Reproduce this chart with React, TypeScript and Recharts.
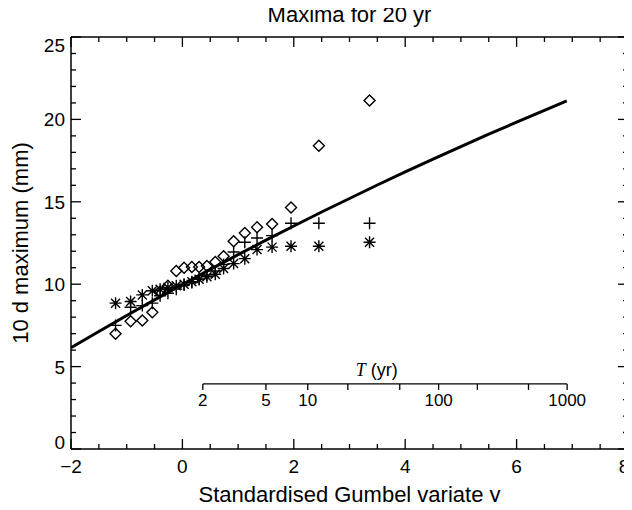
import React from "react";
import {ScatterChart, Scatter, XAxis, YAxis, ReferenceLine, ReferenceDot, Label} from "recharts";

// plotting positions (standardised Gumbel variate) shared by the three samples
const plotX = [-1.2, -0.93, -0.72, -0.54, -0.4, -0.26, -0.11, 0.03, 0.17, 0.3,
    0.44, 0.59, 0.74, 0.92, 1.12, 1.34, 1.61, 1.95, 2.45, 3.36];
const diamondY = [7.0, 7.75, 7.8, 8.3, 9.55, 9.9, 10.8, 11.0, 11.05, 11.05,
    11.1, 11.35, 11.7, 12.6, 13.1, 13.45, 13.65, 14.65, 18.4, 21.15];
const plusY = [7.5, 8.6, 8.7, 8.85, 9.3, 9.45, 9.7, 9.95, 10.1, 10.3,
    10.55, 10.8, 11.2, 11.95, 12.55, 12.8, 12.95, 13.7, 13.7, 13.7];
const starY = [8.85, 8.95, 9.35, 9.6, 9.7, 9.8, 9.9, 10.0, 10.15, 10.3,
    10.45, 10.6, 10.95, 11.25, 11.55, 12.1, 12.25, 12.3, 12.3, 12.55];

// fitted curve
const fitX = [-2, -1.5, -1, -0.5, 0, 0.5, 1, 1.5, 2, 2.5, 3, 3.5, 4, 4.5, 5, 5.5, 6, 6.5, 6.9];
const fitY = [6.14, 7.13, 8.1, 9.05, 9.98, 10.9, 11.79, 12.67, 13.53, 14.38, 15.2, 16.02,
    16.81, 17.59, 18.35, 19.1, 19.83, 20.55, 21.12];

// return period axis
const returnPeriods = [2, 5, 10, 20, 50, 100, 200, 500, 1000];
const labelledPeriods = [2, 5, 10, 100, 1000];

const xTicks = [-2, -1.5, -1, -0.5, 0, 0.5, 1, 1.5, 2, 2.5, 3, 3.5, 4, 4.5, 5, 5.5, 6, 6.5, 7, 7.5, 8];
const yTicks = [0, 1, 2, 3, 4, 5, 6, 7, 8, 9, 10, 11, 12, 13, 14, 15, 16, 17, 18, 19, 20, 21, 22, 23, 24, 25];

const X_MIN = -2, X_MAX = 8, Y_MIN = 0, Y_MAX = 25;
const T_LEVEL = 3.95;
const T_TITLE_X = 3.49;

const gumbel = (T: number) => -Math.log(-Math.log(1 - 1 / T));

const diamonds = plotX.map((x, i) => ({x, y: diamondY[i]}));
const pluses = plotX.map((x, i) => ({x, y: plusY[i]}));
const stars = plotX.map((x, i) => ({x, y: starY[i]}));
const fit = fitX.map((x, i) => ({x, y: fitY[i]}));
const tAxis = returnPeriods.map(T => ({x: gumbel(T), y: T_LEVEL, T}));

const INK = "#000";
const FONT = "'Liberation Sans', Arial, Helvetica, sans-serif";

const fmt = (v: number) => (v < 0 ? "\u2212" + Math.abs(v) : String(v));

const BottomTick = ({x, y, payload}: any) => {
    const v = payload.value;
    const major = v % 2 === 0;
    const dx = v === X_MAX ? -4 : 0;
    return (
        <g>
            <line x1={x} x2={x} y1={y} y2={y - (major ? 10 : 5)} stroke={INK} strokeWidth={1.3}/>
            {major && <text x={x + dx} y={y + 24} textAnchor="middle" fontSize={19} fill={INK}>{fmt(v)}</text>}
        </g>
    );
};

const LeftTick = ({x, y, payload}: any) => {
    const v = payload.value;
    const major = v % 5 === 0;
    const dy = v === 25 ? 8 : v === 0 ? -7 : 0;
    return (
        <g>
            <line x1={x} x2={x + (major ? 10 : 5)} y1={y} y2={y} stroke={INK} strokeWidth={1.3}/>
            {major && <text x={x - 6} y={y + dy + 7} textAnchor="end" fontSize={19} fill={INK}>{v}</text>}
        </g>
    );
};

const Diamond = ({cx, cy}: any) => (
    <path d={`M${cx},${cy - 5.5}L${cx + 5.5},${cy}L${cx},${cy + 5.5}L${cx - 5.5},${cy}Z`}
          fill="none" stroke={INK} strokeWidth={1.4}/>
);

const Plus = ({cx, cy}: any) => (
    <path d={`M${cx - 6},${cy}H${cx + 6}M${cx},${cy - 6}V${cy + 6}`} stroke={INK} strokeWidth={1.4}/>
);

const Star = ({cx, cy}: any) => (
    <path d={`M${cx - 6},${cy}H${cx + 6}M${cx},${cy - 6}V${cy + 6}M${cx - 4.5},${cy - 4.5}L${cx + 4.5},${cy + 4.5}M${cx - 4.5},${cy + 4.5}L${cx + 4.5},${cy - 4.5}`}
          stroke={INK} strokeWidth={1.4}/>
);

const TTick = ({cx, cy, payload}: any) => (
    <g>
        <line x1={cx} x2={cx} y1={cy} y2={cy + 6} stroke={INK} strokeWidth={1.3}/>
        {labelledPeriods.includes(payload.T) &&
            <text x={cx} y={cy + 22} textAnchor="middle" fontSize={17} fill={INK}>{payload.T}</text>}
    </g>
);

const TTitle = ({cx, cy}: any) => (
    <text x={cx} y={cy - 8} textAnchor="middle" fontSize={18} fill={INK}>
        <tspan fontFamily="'Liberation Serif', 'Times New Roman', serif" fontStyle="italic">T</tspan>
        <tspan> (yr)</tspan>
    </text>
);

const Title = ({cx, cy}: any) => (
    <text x={cx} y={cy - 15} textAnchor="middle" fontSize={22} fill={INK}>Maxima for 20 yr</text>
);

const none = () => <g/>;

export default function App() {
    return (
        <div style={{marginTop: -8, marginBottom: -8}}>
            <ScatterChart width={624} height={510} margin={{top: 37, right: 4, bottom: 0, left: 0}}
                          style={{fontFamily: FONT}}>
                <XAxis dataKey="x" type="number" domain={[X_MIN, X_MAX]} ticks={xTicks} interval={0}
                       height={61} tickSize={0} tickMargin={0} tick={<BottomTick/>}
                       axisLine={{stroke: INK, strokeWidth: 1.5}} allowDataOverflow>
                    <Label content={({viewBox}: any) => (
                        <text x={viewBox.x + viewBox.width / 2} y={viewBox.y + 53} textAnchor="middle"
                              fontSize={22} fill={INK}>Standardised Gumbel variate y</text>
                    )}/>
                </XAxis>
                <YAxis dataKey="y" type="number" domain={[Y_MIN, Y_MAX]} ticks={yTicks} interval={0}
                       width={63} tickSize={0} tickMargin={0} tick={<LeftTick/>}
                       axisLine={{stroke: INK, strokeWidth: 1.5}} allowDataOverflow>
                    <Label content={({viewBox}: any) => {
                        const cx = 12;
                        const cy = viewBox.y + viewBox.height / 2;
                        return (
                            <text x={cx} y={cy} transform={`rotate(-90 ${cx} ${cy})`} textAnchor="middle"
                                  dominantBaseline="central" fontSize={22} fill={INK}>10 d maximum (mm)</text>
                        );
                    }}/>
                </YAxis>

                {/* top and right frame with inward ticks */}
                <ReferenceLine y={Y_MAX} stroke={INK} strokeWidth={1.5}/>
                <ReferenceLine x={X_MAX} stroke={INK} strokeWidth={1.5}/>
                {xTicks.map(v => (
                    <ReferenceLine key={"t" + v} stroke={INK} strokeWidth={1.3}
                                   segment={[{x: v, y: Y_MAX}, {x: v, y: Y_MAX - (v % 2 === 0 ? 0.6 : 0.3)}]}/>
                ))}
                {yTicks.map(v => (
                    <ReferenceLine key={"r" + v} stroke={INK} strokeWidth={1.3}
                                   segment={[{x: X_MAX, y: v}, {x: X_MAX - (v % 5 === 0 ? 0.18 : 0.09), y: v}]}/>
                ))}
                <ReferenceDot x={(X_MIN + X_MAX) / 2} y={Y_MAX} r={0} shape={<Title/>}/>

                <ReferenceLine segment={[{x: gumbel(2), y: T_LEVEL}, {x: gumbel(1000), y: T_LEVEL}]}
                               stroke={INK} strokeWidth={1.3}/>
                <Scatter data={tAxis} shape={<TTick/>} isAnimationActive={false}/>
                <ReferenceDot x={T_TITLE_X} y={T_LEVEL} r={0} shape={<TTitle/>}/>

                <Scatter data={fit} line={{stroke: INK, strokeWidth: 3}} shape={none} isAnimationActive={false}/>
                <Scatter data={diamonds} shape={<Diamond/>} isAnimationActive={false}/>
                <Scatter data={pluses} shape={<Plus/>} isAnimationActive={false}/>
                <Scatter data={stars} shape={<Star/>} isAnimationActive={false}/>
            </ScatterChart>
        </div>
    );
}
